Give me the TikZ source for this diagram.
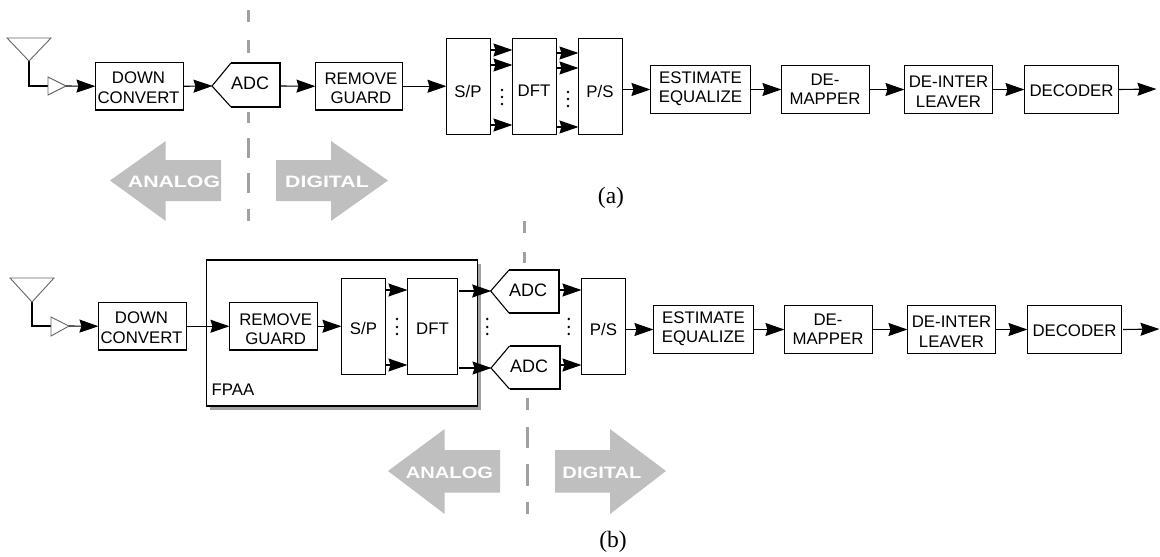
\documentclass[tikz,border=0pt]{standalone}
\usepackage{fontspec}
\usepackage{graphicx}
\setmainfont{Liberation Sans}
\newfontfamily\capfont{Liberation Serif}
\usetikzlibrary{arrows.meta}
\tikzset{
  x=1pt,y=-1pt,
  blockbox/.style={draw=black,line width=1.1pt,fill=white,inner sep=0pt,minimum width=#1},
  txt/.style={inner sep=0pt,align=center,font=\fontsize{16.8}{19.5}\selectfont},
  adctxt/.style={inner sep=0pt,font=\fontsize{18}{20}\selectfont},
  arr/.style={line width=1.1pt,-{Stealth[length=19pt,width=13pt,inset=2pt]},shorten >=-0.5pt},
  ant/.style={draw=black!60,line width=0.9pt,fill=white},
  feed/.style={draw=black,line width=1.1pt},
  cut/.style={draw=black!37,line width=3.2pt},
  side/.style={fill=black!25,draw=none},
  sidetxt/.style={inner sep=0pt,text=white,font=\fontsize{16.5}{19}\selectfont\bfseries},
  adcthin/.style={draw=black,line width=1.1pt},
  adcthick/.style={draw=black,line width=2.4pt},
  dotm/.style={fill=black,draw=none,circle,minimum size=2.8pt,inner sep=0pt},
  caplab/.style={inner sep=0pt,font=\fontsize{23.5}{26}\capfont},
}
% name, x1,y1,x2,y2, text x,text y, text
\newcommand{\blk}[8]{%
  \node[blockbox={(#4-#2)*1pt},minimum height={(#5-#3)*1pt}] (#1) at ({(#2+#4)/2},{(#3+#5)/2}) {};
  \node[txt] (#1-t) at (#6,#7) {#8};
}
% name, tip x,tip y, shoulder x, right x, top y, bottom y, text x, text y
\newcommand{\adcshape}[9]{%
  \coordinate (#1) at (#2,#3);
  \coordinate (#1r) at (#5,#3);
  \fill[white] (#2,#3) -- (#4,#6) -- (#5,#6) -- (#5,#7) -- (#4,#7) -- cycle;
  \draw[adcthin] (#4,#6) -- (#2,#3) -- (#4,#7);
  \draw[adcthick] (#4,#6) -- (#5,#6) -- (#5,#7) -- (#4,#7);
  \node[adctxt] (#1-t) at (#8,#9) {ADC};
}
\newcommand{\dotcol}[4]{%
  \node[dotm] at (#1,#2) {};\node[dotm] at (#1,#3) {};\node[dotm] at (#1,#4) {};
}
\begin{document}
\begin{tikzpicture}
\useasboundingbox (0,0) rectangle (1160,557);

% --- cut lines (a)
\foreach \a/\b in {10/22,40/53,112/123,138/158,173/193,209/221}
  \draw[cut] (248.5,\a) -- (248.5,\b);
% --- cut lines (b)
\foreach \a/\b in {221/233,252/263}
  \draw[cut] (524.3,\a) -- (524.3,\b);
\foreach \a/\b in {398/410,427/448,464/486,502/514}
  \draw[cut] (527.2,\a) -- (527.2,\b);

% --- side arrows (a)
\fill[side] (110,180.5) -- (165.7,141) -- (165.7,160) -- (221,160) -- (221,201) -- (165.7,201) -- (165.7,221) -- cycle;
\node[sidetxt] (ana1) at (174,182) {\scalebox{1.29}[1]{ANALOG}};
\fill[side] (388,180.5) -- (331,141) -- (331,160) -- (276,160) -- (276,201) -- (331,201) -- (331,221) -- cycle;
\node[sidetxt] (dig1) at (327,182) {\scalebox{1.29}[1]{DIGITAL}};
% --- side arrows (b)
\fill[side] (388,471) -- (444.7,429) -- (444.7,450) -- (500,450) -- (500,492.7) -- (444.7,492.7) -- (444.7,514) -- cycle;
\node[sidetxt] (ana2) at (449.5,473) {\scalebox{1.22}[1]{ANALOG}};
\fill[side] (666,471) -- (610,429) -- (610,450) -- (555,450) -- (555,492.7) -- (610,492.7) -- (610,514) -- cycle;
\node[sidetxt] (dig2) at (602,473) {\scalebox{1.22}[1]{DIGITAL}};

\node[caplab] (capa) at (611,198) {(a)};
\node[caplab] (capb) at (613,542) {(b)};

% ===== row (a)
\coordinate (ant1) at (29,61);
\coordinate (amp1in) at (48,86);
\coordinate (amp1) at (66,86);
\draw[feed] (ant1) -- (29,86) -- (amp1in);
\draw[ant] (7,38) -- (51,38) -- (ant1) -- cycle;
\draw[ant] (48,77) -- (amp1) -- (48,95) -- cycle;
\blk{dc1}{95.5}{62.5}{183.5}{110}{138.5}{87.5}{DOWN\\CONVERT}
\adcshape{adc1}{212}{86}{231}{280}{63}{107}{250}{83.5}
\blk{rg1}{315.5}{62.5}{402.5}{110}{361}{88}{REMOVE\\GUARD}
\blk{sp1}{446.5}{38.5}{490.5}{134.5}{468}{91}{S/P}
\blk{dft1}{512.5}{38.5}{556.5}{134.5}{534}{91}{DFT}
\blk{ps1}{578.5}{38.5}{622.5}{134.5}{600}{91}{P/S}
\blk{eq1}{650.5}{65.5}{750.5}{113.5}{700.5}{88.5}{ESTIMATE\\EQUALIZE}
\blk{dm1}{781.5}{65.5}{869.5}{113.5}{825}{89}{DE-\\MAPPER}
\blk{di1}{904.5}{65.5}{992.5}{113.5}{948.5}{91.5}{DE-INTER\\LEAVER}
\blk{de1}{1024.5}{65.5}{1118.5}{113.5}{1071.5}{91}{DECODER}
\coordinate (out1) at (1156,89);

\draw[arr] (amp1) -- (dc1.west);
\draw[arr] (dc1.east) -- (adc1);
\draw[arr] (adc1r) -- (rg1.west);
\draw[arr] (rg1.east) -- (sp1.west |- rg1.east);
\foreach \y in {50,65,125}
  \draw[arr] (sp1.east |- 0,\y) -- (dft1.west |- 0,\y);
\foreach \y in {53,68,127}
  \draw[arr] (dft1.east |- 0,\y) -- (ps1.west |- 0,\y);
\draw[arr] (ps1.east |- eq1.west) -- (eq1.west);
\draw[arr] (eq1.east) -- (dm1.west);
\draw[arr] (dm1.east) -- (di1.west);
\draw[arr] (di1.east) -- (de1.west);
\draw[arr] (de1.east) -- (out1);
\dotcol{502}{90}{97}{104}
\dotcol{568}{92}{99}{106}

% ===== row (b)
\fill[black!37] (210,263.5) rectangle (481,410);
\node[blockbox={271pt},minimum height=146pt] (fpaa) at (342,333) {};
\node[txt,anchor=west] (fpaa-t) at (211.5,390) {FPAA};

\coordinate (ant2) at (32,302);
\coordinate (amp2in) at (51,326);
\coordinate (amp2) at (69,326);
\draw[feed] (ant2) -- (32,326) -- (amp2in);
\draw[ant] (10,278) -- (54,278) -- (ant2) -- cycle;
\draw[ant] (51,317) -- (amp2) -- (51,336) -- cycle;
\blk{dc2}{98.5}{302.5}{186.5}{350}{141.5}{327.5}{DOWN\\CONVERT}
\blk{rg2}{229.5}{302.5}{317.5}{350}{275.7}{329}{REMOVE\\GUARD}
\blk{sp2}{341.5}{278.5}{385.5}{374.5}{363.5}{328.5}{S/P}
\blk{dft2}{407.5}{278.5}{457.5}{374.5}{432.5}{328.5}{DFT}
\adcshape{adc2}{490.7}{291}{509}{559}{270}{313}{528}{290}
\adcshape{adc3}{491}{368}{509.5}{560}{346}{389}{529}{366}
\blk{ps2}{581.5}{278.5}{625.5}{374.5}{603.5}{329}{P/S}
\blk{eq2}{653.5}{305.5}{753.5}{353.5}{703.5}{328.5}{ESTIMATE\\EQUALIZE}
\blk{dm2}{784.5}{305.5}{872.5}{353.5}{828}{329}{DE-\\MAPPER}
\blk{di2}{907.5}{305.5}{995.5}{353.5}{951.5}{331.5}{DE-INTER\\LEAVER}
\blk{de2}{1027.5}{305.5}{1121.5}{353.5}{1074.5}{331}{DECODER}
\coordinate (out2) at (1159,329);

\draw[arr] (amp2) -- (dc2.west);
\draw[arr] (dc2.east) -- (rg2.west);
\draw[arr] (rg2.east) -- (sp2.west |- rg2.east);
\foreach \y in {290,365}
  \draw[arr] (sp2.east |- 0,\y) -- (dft2.west |- 0,\y);
\draw[arr] ([xshift=1pt]dft2.east |- adc2) -- (adc2);
\draw[arr] ([xshift=1pt]dft2.east |- adc3) -- (adc3);
\draw[arr] (adc2r |- 0,290) -- (ps2.west |- 0,290);
\draw[arr] (adc3r |- 0,365) -- (ps2.west |- 0,365);
\draw[arr] (ps2.east |- eq2.west) -- (eq2.west);
\draw[arr] (eq2.east) -- (dm2.west);
\draw[arr] (dm2.east) -- (di2.west);
\draw[arr] (di2.east) -- (de2.west);
\draw[arr] ([xshift=1pt]de2.east) -- (out2);
\dotcol{397}{319}{327}{334}
\dotcol{487.3}{319}{327}{334}
\dotcol{568.7}{319}{327}{334}
\end{tikzpicture}
\end{document}
